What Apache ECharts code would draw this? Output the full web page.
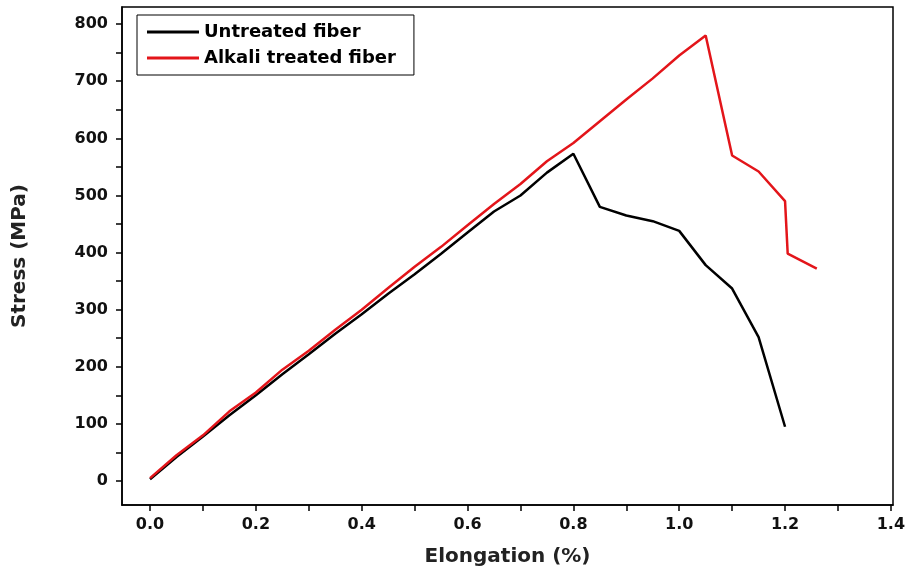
<!DOCTYPE html>
<html><head><meta charset="utf-8">
<script src="https://cdn.jsdelivr.net/npm/echarts@6/dist/echarts.min.js"></script>
<style>html,body{margin:0;padding:0;background:#fff}#c{width:909px;height:572px}</style>
</head><body><div id="c"></div>
<script>
const untreatedX = [0,0.05,0.1,0.15,0.2,0.25,0.3,0.35,0.4,0.45,0.5,0.55,0.6,0.65,0.7,0.75,0.8,0.85,0.9,0.95,1.0,1.05,1.1,1.15,1.2];
const untreatedY = [3,42,78,115,150,187,222,258,292,328,362,398,435,472,500,540,573,480,465,455,438,378,337,252,95];
const alkaliX = [0,0.05,0.1,0.15,0.2,0.25,0.3,0.35,0.4,0.45,0.5,0.55,0.6,0.65,0.7,0.75,0.8,0.85,0.9,0.95,1.0,1.05,1.1,1.15,1.2,1.205,1.26];
const alkaliY = [5,45,80,122,155,195,228,265,300,338,375,410,448,485,520,560,592,630,668,705,745,780,570,542,490,398,372];
const xLabels = [0,0.2,0.4,0.6,0.8,1.0,1.2,1.4];
const xTicks = [0,0.1,0.2,0.3,0.4,0.5,0.6,0.7,0.8,0.9,1.0,1.1,1.2,1.3,1.4];
const yLabels = [0,100,200,300,400,500,600,700,800];
const yTicks = [0,50,100,150,200,250,300,350,400,450,500,550,600,650,700,750,800];
const names = ['Untreated fiber','Alkali treated fiber'];

const zip = (a,b)=>a.map((v,i)=>[v,b[i]]);
const font = '"DejaVu Sans", Arial, sans-serif';
const chart = echarts.init(document.getElementById('c'));
chart.setOption({
  animation:false,
  backgroundColor:'#fff',
  grid:{left:122,right:16,top:7,bottom:67,show:true,borderColor:'#000',borderWidth:1.5,containLabel:false},
  legend:{
    orient:'vertical',left:137,top:15,
    data:names,
    icon:'rect',itemWidth:52,itemHeight:3,itemGap:8,
    borderColor:'#000',borderWidth:1,padding:[8,18,8,10],
    textStyle:{fontFamily:font,fontWeight:'bold',fontSize:18,color:'#000'}
  },
  xAxis:{
    type:'value',min:-0.053,max:1.404,
    name:'Elongation (%)',nameLocation:'middle',nameGap:42,
    nameTextStyle:{fontFamily:font,fontWeight:'bold',fontSize:20,color:'#222'},
    axisLine:{onZero:false,lineStyle:{color:'#000',width:1.5}},
    axisTick:{show:true,length:6,lineStyle:{color:'#000',width:1.5},customValues:xTicks},
    axisLabel:{customValues:xLabels,fontFamily:font,fontWeight:'bold',fontSize:16,color:'#111',margin:12,
      formatter:v=>v.toFixed(1)},
    splitLine:{show:false}
  },
  yAxis:{
    type:'value',min:-42,max:830,
    name:'Stress (MPa)',nameLocation:'middle',nameGap:92,
    nameTextStyle:{fontFamily:font,fontWeight:'bold',fontSize:20,color:'#222'},
    axisLine:{show:true,onZero:false,lineStyle:{color:'#000',width:1.5}},
    axisTick:{show:true,length:6,lineStyle:{color:'#000',width:1.5},customValues:yTicks},
    axisLabel:{customValues:yLabels,fontFamily:font,fontWeight:'bold',fontSize:16,color:'#111',margin:14},
    splitLine:{show:false}
  },
  series:[
    {name:names[0],type:'line',data:zip(untreatedX,untreatedY),showSymbol:false,symbol:'none',
     lineStyle:{color:'#000',width:2.5},itemStyle:{color:'#000'},z:2},
    {name:names[1],type:'line',data:zip(alkaliX,alkaliY),showSymbol:false,symbol:'none',
     lineStyle:{color:'#e3151a',width:2.5},itemStyle:{color:'#e3151a'},z:3}
  ]
});
</script></body></html>
